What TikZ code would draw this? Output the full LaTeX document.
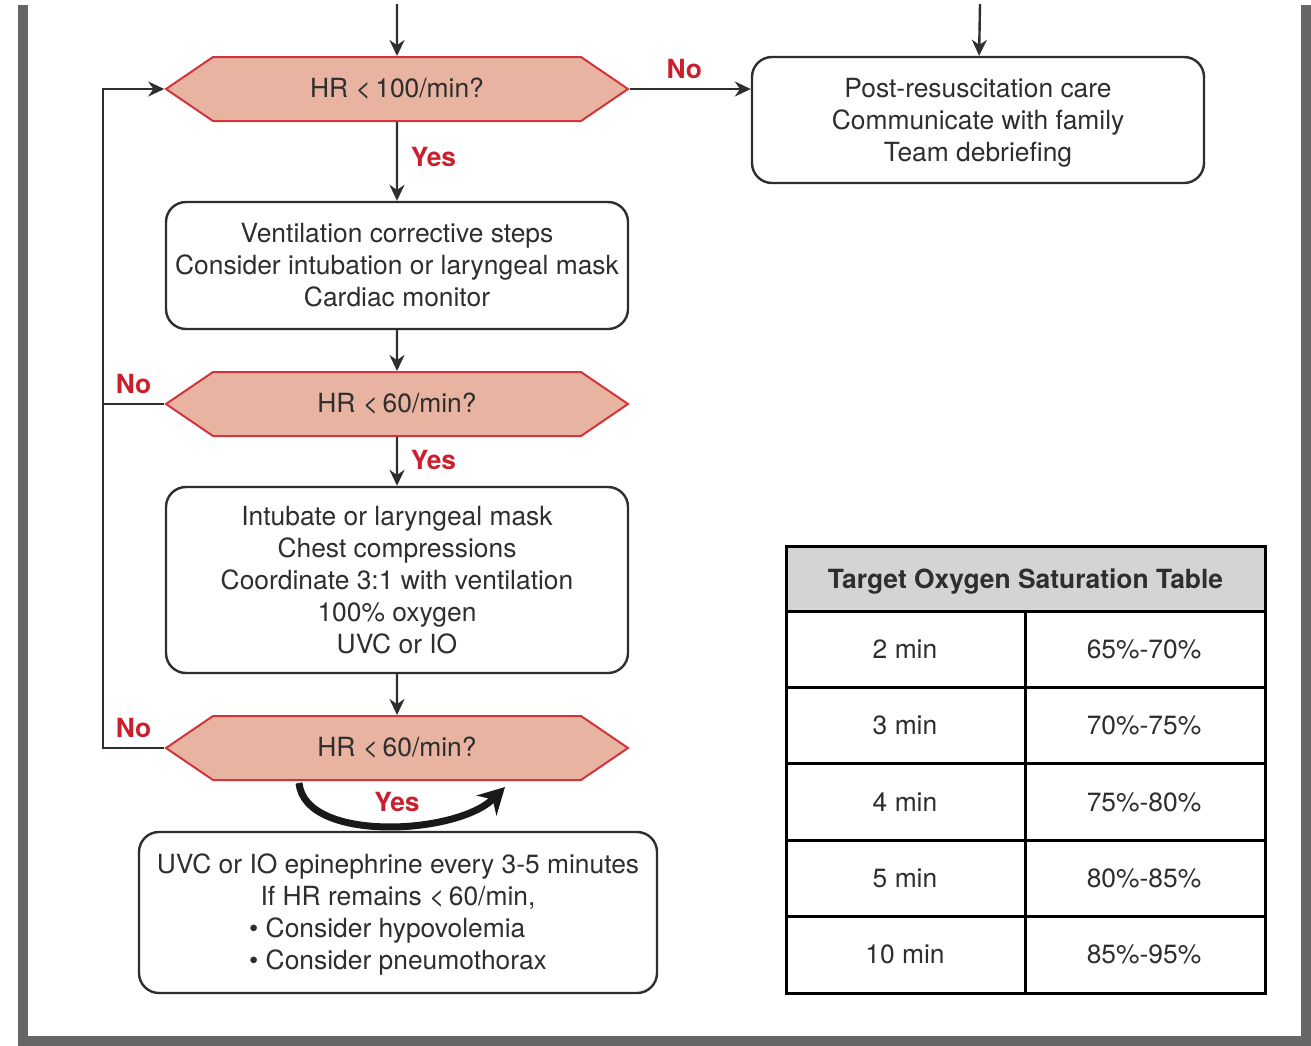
\documentclass[tikz,border=0pt]{standalone}
\usepackage{fontspec}
\setmainfont{TeX Gyre Heros}
\usepackage{calc}
\usetikzlibrary{shapes.symbols,arrows.meta,positioning}
\definecolor{hexfill}{HTML}{E8B3A0}
\definecolor{hexline}{HTML}{D2343C}
\definecolor{answerred}{HTML}{CC1F2D}
\definecolor{ink}{HTML}{2E2E2E}
\definecolor{framegray}{HTML}{666666}
\definecolor{headgray}{HTML}{D4D4D4}
\begin{document}
\begin{tikzpicture}[x=0.5pt,y=-0.5pt,
   every node/.style={font=\fontsize{13.2}{16}\selectfont,text=ink},
   decision/.style={signal,signal to=west and east,signal pointer angle=68.5,
      draw=hexline,fill=hexfill,line width=1pt,
      minimum width=231pt,minimum height=32pt,inner sep=0pt},
   stepbox/.style={draw=ink,line width=1.2pt,rounded corners=10pt,align=center,inner sep=0pt},
   answer/.style={text=answerred,font=\fontsize{13.2}{16}\selectfont\bfseries},
   flow/.style={draw=ink,line width=1.2pt,-{Stealth[length=8pt,width=7.5pt]}}]
\useasboundingbox (0,0) rectangle (1311,1045);
% frame
\draw[framegray,line width=5pt] (23,5) -- (23,1041) -- (1306,1041) -- (1306,5);
% flow chart
\coordinate (in1) at (397,4);
\coordinate (in2) at (980,4);
\coordinate (rail) at (103,0);
\node[decision] (hr1) at (397,89) {HR <\,100/min?};
\node[stepbox,minimum width=226pt,minimum height=63pt] (post) at (978,120)
   {\strut\\[-15pt]Post-resuscitation care\\Communicate with family\\Team debriefing};
\node[stepbox,minimum width=231pt,minimum height=63.5pt] (vent) at (397,265.5)
   {Ventilation corrective steps\\Consider intubation or laryngeal mask\\Cardiac monitor};
\node[decision] (hr2) at (397,404) {HR <\,60/min?};
\node[stepbox,minimum width=231pt,minimum height=93pt] (comp) at (397,580)
   {Intubate or laryngeal mask\\Chest compressions\\Coordinate 3:1 with ventilation\\100\% oxygen\\UVC or IO};
\node[decision] (hr3) at (397,748) {HR <\,60/min?};
\node[stepbox,minimum width=259pt,minimum height=80.5pt] (epi) at (398,912.5)
   {\strut\\[-15pt]UVC or IO epinephrine every 3-5 minutes\\If HR remains <\,60/min,\\
    \makebox[\widthof{\textbullet\ Consider pneumothorax}][l]{\textbullet\ Consider hypovolemia}\\
    \textbullet\ Consider pneumothorax};
\node[answer,below=2pt of hr3] (yes3) {Yes};

\draw[flow] (in1) -- (hr1);
\draw[flow] (in2) -- (post);
\draw[flow] (hr1.east) -- node[answer,pos=0.45,above=1pt] {No} (hr1.east -| post.west);
\draw[flow] (hr1) -- node[answer,pos=0.45,right=3pt] {Yes} (vent);
\draw[flow] (vent) -- (hr2);
\draw[flow] (hr2) -- node[answer,pos=0.47,right=3pt] {Yes} (comp);
\draw[flow] (comp) -- (hr3);
\draw[ink,line width=1.2pt] (hr2.west) -- node[answer,above=1pt] {No} (hr2.west -| rail);
\draw[flow] (hr3.west) -- node[answer,above=1pt] {No} (hr3.west -| rail)
   -- (hr1.west -| rail) -- (hr1.west);
\coordinate (curlstart) at ([xshift=-49pt,yshift=-1pt]hr3.south);
\coordinate (curlend) at ([xshift=54pt,yshift=-3pt]hr3.south);
\draw[black!90,line width=3.5pt,-{Stealth[length=13pt,width=14pt]}]
   (curlstart) .. controls +(3pt,-30pt) and +(-24pt,-24pt) .. (curlend);
% saturation table
\draw[line width=1.5pt,fill=headgray] (786,546) rectangle (1265,611);
\node[font=\fontsize{13.2}{16}\selectfont\bfseries] (tabhead) at (1025.5,582) {Target Oxygen Saturation Table};
\foreach \tm/\sat [count=\i] in {2 min/65\%-70\%,3 min/70\%-75\%,4 min/75\%-80\%,5 min/80\%-85\%,10 min/85\%-95\%}{
   \draw[line width=1.5pt] (786,{611+76.4*(\i-1)}) rectangle (1025,{611+76.4*\i});
   \draw[line width=1.5pt] (1025,{611+76.4*(\i-1)}) rectangle (1265,{611+76.4*\i});
   \node (tm\i) at (905,{611+76.4*(\i-0.5)}) {\tm};
   \node (sat\i) at (1144,{611+76.4*(\i-0.5)}) {\sat};
}
\end{tikzpicture}
\end{document}
